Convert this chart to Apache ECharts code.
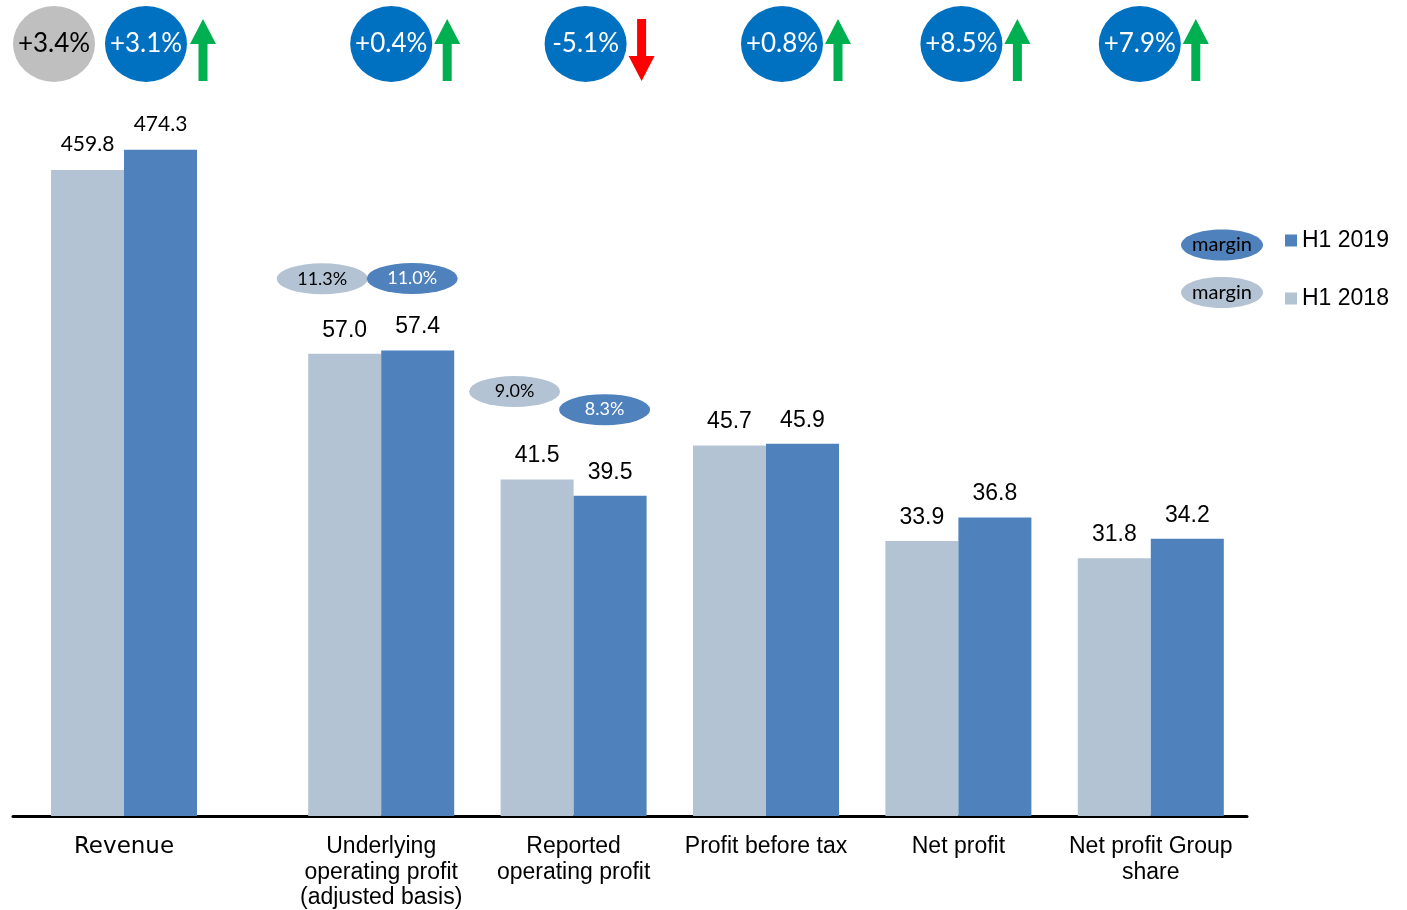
<!DOCTYPE html>
<html><head><meta charset="utf-8">
<script src="https://cdn.jsdelivr.net/npm/echarts@6/dist/echarts.min.js"></script>
<style>html,body{margin:0;padding:0;background:#fff}#c{width:1407px;height:910px}</style>
</head><body><div id="c"></div>
<script>
// ---- data ----
const revenueCategory = ['Revenue'];
const revenue2018 = [459.8];
const revenue2019 = [474.3];
const categories = ['Underlying\noperating profit\n(adjusted basis)', 'Reported\noperating profit', 'Profit before tax', 'Net profit', 'Net profit Group\nshare'];
const values2018 = [57.0, 41.5, 45.7, 33.9, 31.8];
const values2019 = [57.4, 39.5, 45.9, 36.8, 34.2];
const revenueGrowthOther = [3.4];
const revenueGrowth = [3.1];
const growth = [0.4, -5.1, 0.8, 8.5, 7.9];
const margin2018 = [11.3, 9.0];
const margin2019 = [11.0, 8.3];
const seriesNames = ['H1 2018', 'H1 2019'];

// ---- style ----
const LIGHT = '#B3C3D4', DARK = '#4F81BD', BUBBLE = '#0070C0', GREYB = '#BFBFBF';
const UP = 'path://M13,0L26,25L17.5,25L17.5,62L8.5,62L8.5,25L0,25Z';
const DOWN = 'path://M8.5,0L17.5,0L17.5,37L26,37L13,62L0,37L8.5,37Z';
const bubbleShift = [10, 12, 16, 3, -11];
const marginLift2018 = [75, 88];
const marginLift2019 = [72, 86];
const fmtG = v => (v >= 0 ? '+' : '') + v.toFixed(1) + '%';
const fmtM = v => v.toFixed(1) + '%';

const chart = echarts.init(document.getElementById('c'));
const bubbleLabel = (color) => ({show: true, position: 'inside', color: color, fontFamily: 'Lato', fontSize: 26,
  formatter: p => fmtG(p.value[2])});
const marginLabel = (color) => ({show: true, position: 'inside', color: color, fontFamily: 'Lato', fontSize: 18,
  formatter: p => fmtM(p.value[2])});
const solid = (c) => ({color: c, opacity: 1});

chart.setOption({
  animation: false,
  grid: [
    {left: 13, top: 44, width: 444, bottom: 94, containLabel: false, outerBoundsMode: 'none'},
    {left: 285, top: 44, width: 962, bottom: 94, containLabel: false, outerBoundsMode: 'none'}
  ],
  legend: {
    data: ['H1 2019', 'H1 2018'], orient: 'vertical', left: 1280, top: 224,
    itemWidth: 12, itemHeight: 12, itemGap: 35, icon: 'rect',
    textStyle: {fontFamily: 'Liberation Sans', fontSize: 23, color: '#000'}
  },
  xAxis: [
    {type: 'category', gridIndex: 0, data: revenueCategory.concat(['']),
     axisLine: {onZero: false, lineStyle: {color: '#000', width: 3}}, axisTick: {show: false},
     axisLabel: {fontFamily: 'DejaVu Sans', fontSize: 23, color: '#000', margin: 20}},
    {type: 'category', gridIndex: 1, data: categories,
     axisLine: {onZero: false, lineStyle: {color: '#000', width: 3}}, axisTick: {show: false},
     axisLabel: {fontFamily: 'Liberation Sans', fontSize: 23, lineHeight: 25.5, color: '#000', margin: 18, interval: 0}}
  ],
  yAxis: [
    {type: 'value', gridIndex: 0, min: 0, max: 549.5, show: false},
    {type: 'value', gridIndex: 1, min: 0, max: 95.2, show: false},
    {type: 'value', gridIndex: 0, min: 0, max: 1, show: false},
    {type: 'value', gridIndex: 1, min: 0, max: 1, show: false}
  ],
  graphic: [
    {type: 'ellipse', shape: {cx: 1222, cy: 245, rx: 41, ry: 15.5}, style: {fill: DARK}},
    {type: 'text', x: 1222, y: 245, style: {text: 'margin', fill: '#000', font: '20px Lato', align: 'center', verticalAlign: 'middle'}},
    {type: 'ellipse', shape: {cx: 1222, cy: 292.5, rx: 41, ry: 15.5}, style: {fill: LIGHT}},
    {type: 'text', x: 1222, y: 292.5, style: {text: 'margin', fill: '#000', font: '20px Lato', align: 'center', verticalAlign: 'middle'}}
  ],
  series: [
    {name: seriesNames[0], type: 'bar', xAxisIndex: 0, yAxisIndex: 0, data: revenue2018, barWidth: 73, barGap: '0%',
     itemStyle: {color: LIGHT}, label: {show: true, position: 'top', distance: 15, color: '#000', fontFamily: 'Lato', fontSize: 21}},
    {name: seriesNames[1], type: 'bar', xAxisIndex: 0, yAxisIndex: 0, data: revenue2019, barWidth: 73, barGap: '0%',
     itemStyle: {color: DARK}, label: {show: true, position: 'top', distance: 15, color: '#000', fontFamily: 'Lato', fontSize: 21}},
    {name: seriesNames[0], type: 'bar', xAxisIndex: 1, yAxisIndex: 1, data: values2018, barWidth: 73, barGap: '0%',
     itemStyle: {color: LIGHT}, label: {show: true, position: 'top', distance: 12, color: '#000', fontFamily: 'Liberation Sans', fontSize: 23, formatter: p => p.value.toFixed(1)}},
    {name: seriesNames[1], type: 'bar', xAxisIndex: 1, yAxisIndex: 1, data: values2019, barWidth: 73, barGap: '0%',
     itemStyle: {color: DARK}, label: {show: true, position: 'top', distance: 12, color: '#000', fontFamily: 'Liberation Sans', fontSize: 23, formatter: p => p.value.toFixed(1)}},
    // revenue growth bubbles
    {type: 'scatter', xAxisIndex: 0, yAxisIndex: 2, clip: false, symbol: 'circle', symbolSize: [82, 76], symbolOffset: [-70, 0],
     itemStyle: solid(GREYB), label: bubbleLabel('#000'), silent: true,
     data: revenueGrowthOther.map((g, i) => [i, 1, g])},
    {type: 'scatter', xAxisIndex: 0, yAxisIndex: 2, clip: false, symbol: 'circle', symbolSize: [82, 76], symbolOffset: [22, 0],
     itemStyle: solid(BUBBLE), label: bubbleLabel('#fff'), silent: true,
     data: revenueGrowth.map((g, i) => [i, 1, g])},
    {type: 'scatter', xAxisIndex: 0, yAxisIndex: 2, clip: false, symbolSize: [26, 62], silent: true,
     data: revenueGrowth.map((g, i) => ({value: [i, 1, g], symbol: g >= 0 ? UP : DOWN, symbolOffset: [79, 6],
       itemStyle: solid(g >= 0 ? '#00B050' : '#FF0000')}))},
    // other growth bubbles
    {type: 'scatter', xAxisIndex: 1, yAxisIndex: 3, clip: false, symbol: 'circle', symbolSize: [82, 76],
     itemStyle: solid(BUBBLE), label: bubbleLabel('#fff'), silent: true,
     data: growth.map((g, i) => ({value: [i, 1, g], symbolOffset: [bubbleShift[i], 0]}))},
    {type: 'scatter', xAxisIndex: 1, yAxisIndex: 3, clip: false, symbolSize: [26, 62], silent: true,
     data: growth.map((g, i) => ({value: [i, 1, g], symbol: g >= 0 ? UP : DOWN, symbolOffset: [bubbleShift[i] + 56, 6],
       itemStyle: solid(g >= 0 ? '#00B050' : '#FF0000')}))},
    // margins
    {type: 'scatter', xAxisIndex: 1, yAxisIndex: 1, clip: false, symbol: 'circle', symbolSize: [91, 31],
     itemStyle: solid(LIGHT), label: marginLabel('#000'), silent: true,
     data: margin2018.map((m, i) => ({value: [i, values2018[i], m], symbolOffset: [-59, -marginLift2018[i]]}))},
    {type: 'scatter', xAxisIndex: 1, yAxisIndex: 1, clip: false, symbol: 'circle', symbolSize: [91, 31],
     itemStyle: solid(DARK), label: marginLabel('#fff'), silent: true,
     data: margin2019.map((m, i) => ({value: [i, values2019[i], m], symbolOffset: [31, -marginLift2019[i]]}))}
  ]
});
</script>
</body></html>
